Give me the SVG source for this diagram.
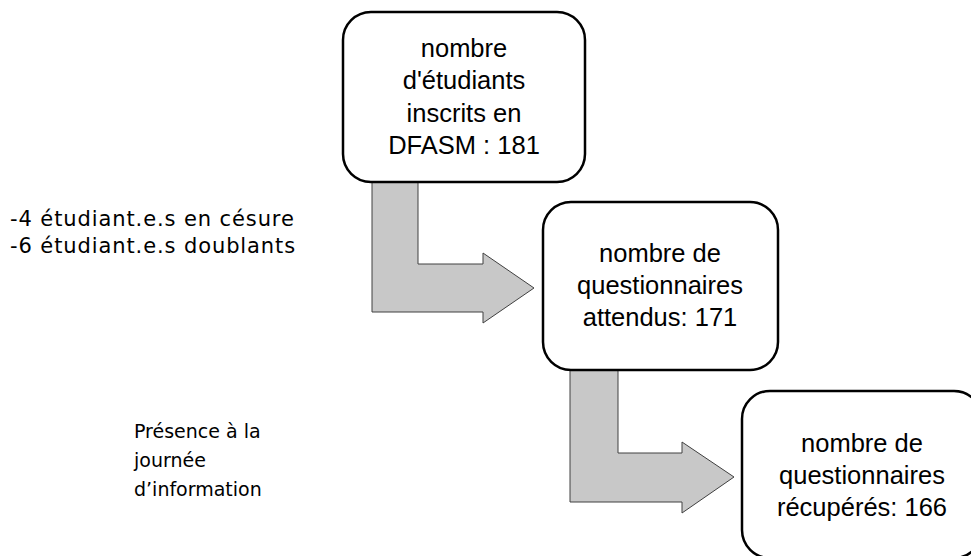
<svg xmlns="http://www.w3.org/2000/svg" width="971" height="556" viewBox="0 0 971 556">
<style>
.box{fill:#fff;stroke:#000;stroke-width:2.5}
.arr{fill:#c8c8c8;stroke:#404040;stroke-width:1}
.bt{font-family:"Liberation Sans",Arial,sans-serif;font-size:25.5px;fill:#000;text-anchor:middle}
.lt{font-family:"DejaVu Sans",Verdana,sans-serif;font-size:19px;fill:#000}
.lt1{font-family:"DejaVu Sans",Verdana,sans-serif;font-size:21px;letter-spacing:0.9px;fill:#000}
</style>
<rect width="971" height="556" fill="#fff"/>
<g id="connectors">
<path class="arr" d="M372,182 L418,182 L418,264 L483,264 L483,253 L534,288 L483,323 L483,312 L372,312 Z"/>
<path class="arr" d="M570,370 L618,370 L618,453 L682,453 L682,442 L734,477 L682,513 L682,502 L570,502 Z"/>
</g>
<g id="node1">
<rect class="box" x="343" y="12" width="242" height="170" rx="28"/>
<text class="bt" x="464" y="57">nombre</text>
<text class="bt" x="464" y="89">d'étudiants</text>
<text class="bt" x="464" y="122">inscrits en</text>
<text class="bt" x="464" y="154">DFASM : 181</text>
</g>
<g id="node2">
<rect class="box" x="543" y="202" width="235" height="168" rx="28"/>
<text class="bt" x="660" y="262">nombre de</text>
<text class="bt" x="660" y="294">questionnaires</text>
<text class="bt" x="660" y="326">attendus: 171</text>
</g>
<g id="node3">
<rect class="box" x="742" y="391" width="240" height="167" rx="28"/>
<text class="bt" x="862" y="452">nombre de</text>
<text class="bt" x="862" y="484">questionnaires</text>
<text class="bt" x="862" y="516">récupérés: 166</text>
</g>
<g id="label1">
<text class="lt1" x="10" y="226">-4 étudiant.e.s en césure</text>
<text class="lt1" x="10" y="253">-6 étudiant.e.s doublants</text>
</g>
<g id="label2">
<text class="lt" x="134" y="438">Présence à la</text>
<text class="lt" x="134" y="467">journée</text>
<text class="lt" x="134" y="496">d’information</text>
</g>
</svg>
